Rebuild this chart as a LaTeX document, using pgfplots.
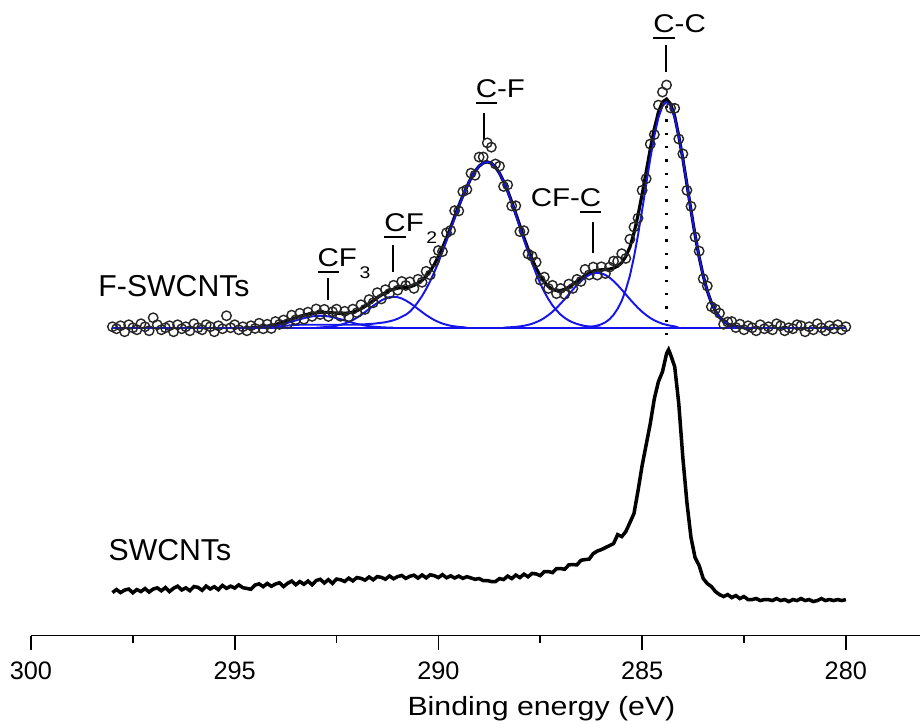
\documentclass[border=0pt]{standalone}
\usepackage{fontspec}
\setmainfont{Liberation Sans}
\newfontfamily\widefont{Liberation Sans}[FakeStretch=1.15]
\usepackage{pgfplots}
\usepackage{pgfplotstable}
\pgfplotsset{compat=1.18}
\definecolor{fitblue}{RGB}{20,20,235}

\newcommand{\plab}{\widefont\fontsize{7.3}{8.5}\selectfont}
\newcommand{\sub}[1]{\kern0.1em\raisebox{-0.45em}{\fontsize{4.8}{5}\selectfont #1}}

% F-SWCNTs: envelope S, components, measured points (above the baseline)
\pgfplotstableread{
E S cc cfc cf cf2 cf3 pt
280.0 0 0 0 0 0 0 1
280.1 0 0 0 0 0 0 -2
280.2 0 0 0 0 0 0 3
280.3 0 0 0 0 0 0 -1
280.4 0 0 0 0 0 0 2
280.5 0 0 0 0 0 0 -3
280.6 0 0 0 0 0 0 0
280.7 0 0 0 0 0 0 4
280.8 0 0 0 0 0 0 -2
280.9 0 0 0 0 0 0 1
281.0 0 0 0 0 0 0 -4
281.1 0 0 0 0 0 0 2
281.2 0 0 0 0 0 0 3
281.3 0 0 0 0 0 0 -1
281.4 0 0 0 0 0 0 0
281.5 0 0 0 0 0 0 -3
281.6 0 0 0 0 0 0 2
281.7 0 0 0 0 0 0 4
281.8 0 0 0 0 0 0 -2
281.9 0 0 0 0 0 0 1
282.0 0 0 0 0 0 0 -1
282.1 0 0 0 0 0 0 3
282.2 0 0 0 0 0 0 -3
282.3 0 0 0 0 0 0 0
282.4 0 0 0 0 0 0 2
282.5 0 0 0 0 0 0 -2
282.6 0.6 0.6 0 0 0 0 3.6
282.7 1.2 1.2 0 0 0 0 0.2
282.8 2.2 2.2 0 0 0 0 6.2
282.9 3.8 3.8 0 0 0 0 5.8
283.0 6.5 6.5 0 0 0 0 3.5
283.1 10.5 10.5 0 0 0 0 14.5
283.2 16.6 16.6 0 0 0 0 18.6
283.3 25.1 25.1 0 0 0 0 21.1
283.4 36.8 36.8 0 0 0 0 41.8
283.5 52.0 52.0 0 0 0 0 49
283.6 70.7 70.7 0 0 0 0 76.7
283.7 92.9 92.9 0 0 0 0 90.9
283.8 117.5 117.5 0 0 0 0 121.5
283.9 143.5 143.5 0 0 0 0 137.5
284.0 169.0 169.0 0 0 0 0 174
284.1 191.9 191.9 0 0 0 0 188.9
284.2 211.6 210.2 1.4 0 0 0 219.6
284.3 223.9 221.9 2.0 0 0 0 219.9
284.4 228.9 226 2.9 0 0 0 242.9
284.5 225.9 221.9 4.0 0 0 0 235.9
284.6 215.8 210.2 5.6 0 0 0 222.8
284.7 199.3 191.9 7.4 0 0 0 193.3
284.8 178.8 169.0 9.8 0 0 0 183.8
284.9 156.2 143.5 12.7 0 0 0 149.2
285.0 133.5 117.5 16.0 0 0 0 137.5
285.1 112.7 92.9 19.8 0 0 0 109.7
285.2 94.8 70.7 24.1 0 0 0 100.8
285.3 80.6 52.0 28.6 0 0 0 88.6
285.4 71.4 38 33.4 0 0 0 69.4
285.5 65.1 27 38.1 0 0 0 74.1
285.6 61.6 19 42.6 0 0 0 66.6
285.7 59.7 13 46.7 0 0 0 66.7
285.8 58.7 8.5 50.2 0 0 0 60.7
285.9 58.3 5.5 52.8 0 0 0 54.3
286.0 58.0 3.5 54.5 0 0 0 61
286.1 57.7 2.2 55 0.5 0 0 52.7
286.2 56.7 1.4 54.5 0.8 0 0 60.7
286.3 54.9 0.8 52.8 1.3 0 0 52.9
286.4 52.4 0.4 50.2 1.8 0 0 58.4
286.5 49.4 0 46.7 2.7 0 0 46.4
286.6 46.4 0 42.6 3.8 0 0 48.4
286.7 43.4 0 38.1 5.3 0 0 39.4
286.8 40.7 0 33.4 7.3 0 0 43.7
286.9 38.5 0 28.6 9.9 0 0 33.5
287.0 37.3 0 24.1 13.2 0 0 39.3
287.1 37.2 0 19.8 17.4 0 0 34.2
287.2 38.4 0 16.0 22.4 0 0 42.4
287.3 41.3 0 12.7 28.6 0 0 39.3
287.4 45.7 0 9.8 35.9 0 0 50.7
287.5 51.7 0 7.4 44.3 0 0 47.7
287.6 59.6 0 5.6 54.0 0 0 65.6
287.7 68.6 0 4.0 64.6 0 0 71.6
287.8 78.9 0 2.9 76.0 0 0 73.9
287.9 90.1 0 2.0 88.1 0 0 97.1
288.0 102.2 0 1.4 100.8 0 0 96.2
288.1 114.1 0 0.9 113.2 0 0 122.1
288.2 125.9 0 0.6 125.3 0 0 121.9
288.3 137.0 0 0.4 136.6 0 0 143
288.4 146.4 0 0 146.4 0 0 141.4
288.5 154.7 0 0 154.7 0 0 161.7
288.6 160.9 0 0 160.9 0 0 163.9
288.7 164.7 0 0 164.7 0 0 180.7
288.8 166 0 0 166 0 0 185
288.9 164.9 0 0 164.9 0 0 170.9
289.0 161.8 0 0 161.8 0 0 170.8
289.1 156.6 0 0 156.6 0 0 152.6
289.2 149.7 0 0 149.7 0 0 154.7
289.3 141.3 0 0 141.3 0 0 138.3
289.4 132.2 0 0 131.6 0.6 0 136.2
289.5 121.9 0 0 121.0 0.9 0 116.9
289.6 111.2 0 0 109.8 1.4 0 117.2
289.7 100.4 0 0 98.4 2.0 0 97.4
289.8 90.0 0 0 87.0 3.0 0 95
289.9 80.2 0 0 76.0 4.2 0 76.2
290.0 71.3 0 0 65.5 5.8 0 77.3
290.1 63.4 0 0 55.7 7.7 0 66.4
290.2 56.9 0 0 46.8 10.1 0 52.9
290.3 51.5 0 0 38.8 12.7 0 56.5
290.4 47.5 0 0 31.8 15.7 0 45.5
290.5 44.5 0 0 25.7 18.8 0 48.5
290.6 42.4 0 0 20.5 21.9 0 39.4
290.7 40.9 0 0 16.1 24.8 0 45.9
290.8 40.3 0 0 13.0 27.3 0 42.3
290.9 40.3 0 0 11 29.3 0 46.3
291.0 39.6 0 0 9 30.6 0 37.6
291.1 38.5 0 0 7.5 31 0 42.5
291.2 37.3 0 0 6.5 30.6 0.2 34.3
291.3 35.1 0 0 5.5 29.3 0.3 38.1
291.4 32.8 0 0 5.0 27.3 0.5 28.8
291.5 30.1 0 0 4.5 24.8 0.8 35.1
291.6 27.0 0 0 4.0 21.9 1.1 25
291.7 24.2 0 0 3.8 18.8 1.6 28.2
291.8 21.4 0 0 3.5 15.7 2.2 18.4
291.9 19.0 0 0 3.3 12.7 3.0 23
292.0 17.1 0 0 3.1 10.1 3.9 15.1
292.1 15.6 0 0 3.0 7.7 4.9 18.6
292.2 14.9 0 0 3.0 5.8 6.1 10.9
292.3 14.5 0 0 3.0 4.2 7.3 16.5
292.4 14.5 0 0 3.0 3.0 8.5 11.5
292.5 14.6 0 0 3.0 2.0 9.6 18.6
292.6 15.0 0 0 3.0 1.4 10.6 16
292.7 15.3 0 0 3.0 0.9 11.4 11.3
292.8 15.4 0 0 3.0 0.6 11.8 18.4
292.9 15.3 0 0 3.0 0.3 12 13.3
293.0 14.8 0 0 3.0 0 11.8 18.8
293.1 14.4 0 0 3.0 0 11.4 11.4
293.2 13.6 0 0 3.0 0 10.6 15.6
293.3 12.6 0 0 3.0 0 9.6 8.6
293.4 11.5 0 0 3.0 0 8.5 14.5
293.5 10.1 0 0 2.8 0 7.3 8.1
293.6 8.6 0 0 2.5 0 6.1 12.6
293.7 7.1 0 0 2.2 0 4.9 4.1
293.8 5.7 0 0 1.8 0 3.9 7.7
293.9 4.4 0 0 1.4 0 3.0 3.4
294.0 3.2 0 0 1.0 0 2.2 6.2
294.1 2.3 0 0 0.7 0 1.6 -0.7
294.2 1.5 0 0 0.4 0 1.1 3.5
294.3 1.0 0 0 0.2 0 0.8 -1
294.4 0.5 0 0 0 0 0.5 4.5
294.5 0.3 0 0 0 0 0.3 -0.7
294.6 0 0 0 0 0 0 2
294.7 0 0 0 0 0 0 -3
294.8 0 0 0 0 0 0 1
294.9 0 0 0 0 0 0 -2
295.0 0 0 0 0 0 0 3
295.1 0 0 0 0 0 0 0
295.2 0 0 0 0 0 0 12
295.3 0 0 0 0 0 0 -1
295.4 0 0 0 0 0 0 2
295.5 0 0 0 0 0 0 -4
295.6 0 0 0 0 0 0 1
295.7 0 0 0 0 0 0 3
295.8 0 0 0 0 0 0 -2
295.9 0 0 0 0 0 0 0
296.0 0 0 0 0 0 0 4
296.1 0 0 0 0 0 0 -3
296.2 0 0 0 0 0 0 1
296.3 0 0 0 0 0 0 -1
296.4 0 0 0 0 0 0 3
296.5 0 0 0 0 0 0 -4
296.6 0 0 0 0 0 0 2
296.7 0 0 0 0 0 0 0
296.8 0 0 0 0 0 0 -2
296.9 0 0 0 0 0 0 3
297.0 0 0 0 0 0 0 10
297.1 0 0 0 0 0 0 -3
297.2 0 0 0 0 0 0 1
297.3 0 0 0 0 0 0 4
297.4 0 0 0 0 0 0 -2
297.5 0 0 0 0 0 0 0
297.6 0 0 0 0 0 0 3
297.7 0 0 0 0 0 0 -4
297.8 0 0 0 0 0 0 2
297.9 0 0 0 0 0 0 -1
298.0 0 0 0 0 0 0 1
}\fswcnt

% pristine SWCNTs
\pgfplotstableread{
E I
298.0 43
297.9 46
297.8 43
297.7 45.5
297.6 46.5
297.5 42.8
297.4 46
297.3 44
297.2 47
297.1 43.5
297.0 46.5
296.9 47.7
296.8 44.8
296.7 48
296.6 44
296.5 47.3
296.4 49.4
296.3 45.6
296.2 47.7
296.1 44.9
296.0 49
295.9 48.2
295.8 45.3
295.7 49.5
295.6 46.6
295.5 48.8
295.4 45.9
295.3 50.1
295.2 47.2
295.1 49.4
295.0 47.5
294.9 50.7
294.8 47.9
294.7 47.1
294.6 46.3
294.5 50.5
294.4 51.7
294.3 48.9
294.2 52.1
294.1 49.3
294.0 51.5
293.9 52.8
293.8 49
293.7 52.3
293.6 54.5
293.5 50.8
293.4 54
293.3 51.3
293.2 54.5
293.1 50.8
293.0 55
292.9 56.3
292.8 52.6
292.7 55.9
292.6 52.2
292.5 56.5
292.4 55.8
292.3 54.1
292.2 57.4
292.1 54.7
292.0 58
291.9 57.2
291.8 55.4
291.7 58.6
291.6 55.8
291.5 59
291.4 58.2
291.3 56.4
291.2 59.6
291.1 56.8
291.0 59
290.9 60.1
290.8 57.2
290.7 59.3
290.6 60.4
290.5 57.5
290.4 60.6
290.3 57.7
290.2 60.8
290.1 59.9
290.0 58
289.9 60.9
289.8 57.8
289.7 59.7
289.6 57.6
289.5 59.5
289.4 57.2
289.3 58.9
289.2 57.6
289.1 56.3
289.0 57
288.9 55
288.8 55
288.7 54
288.6 54
288.5 57
288.4 56
288.3 59.5
288.2 57
288.1 60.5
288.0 58
287.9 61.4
287.8 58.8
287.7 62.2
287.6 61.6
287.5 60
287.4 64
287.3 64
287.2 63
287.1 67
287.0 67
286.9 66.3
286.8 70.7
286.7 71
286.6 70.7
286.5 75.3
286.4 76
286.3 76.5
286.2 82
286.1 84.5
286.0 86
285.9 88
285.8 90
285.7 92
285.6 101
285.5 99
285.4 104
285.3 113
285.2 122
285.1 145
285.0 170
284.9 191
284.8 212
284.7 237
284.6 254
284.5 264
284.4 282
284.35 286
284.3 281
284.2 269
284.1 232
284.0 178
283.9 133
283.8 98
283.7 78
283.6 70
283.5 57
283.4 52
283.3 49
283.2 44
283.1 41
283.0 39
282.9 41
282.8 38
282.7 40
282.6 37
282.5 39
282.4 36
282.3 36
282.2 37
282.1 35
282.0 36
281.9 36
281.8 35
281.7 37
281.6 35
281.5 36
281.4 34
281.3 36
281.2 35
281.1 37
281.0 35
280.9 36
280.8 34
280.7 35
280.6 37
280.5 35
280.4 36
280.3 35
280.2 36
280.1 35
280.0 36
}\swcnt

\begin{document}
\begin{tikzpicture}
\begin{axis}[
  x=0.4075cm, y=0.01cm,
  x dir=reverse,
  xmin=278.18, xmax=300, ymin=0, ymax=636,
  enlargelimits=false,
  clip=false,
  axis x line*=bottom,
  axis y line=none,
  ytick=\empty,
  xtick={280,285,290,295,300},
  minor x tick num=1,
  tick align=outside,
  major tick length=0.14cm,
  minor tick length=0.07cm,
  every tick/.style={black, line width=0.5pt},
  axis line style={black, line width=0.55pt},
  /pgf/number format/assume math mode=true,
  xticklabel style={font=\fontsize{7.2}{8}\selectfont, anchor=base, yshift=-0.30cm},
]
\coordinate (bl) at (axis cs:300.76,-88);
\coordinate (tr) at (axis cs:278.18,636);

% F-SWCNTs: points, envelope, components, baseline
\addplot[only marks, mark=o, mark size=1.35pt, black!85, mark options={line width=0.4pt}]
  table[x=E, y expr=\thisrow{pt}+308] {\fswcnt};
\addplot[black, line width=0.9pt, restrict x to domain=282.5:294.6]
  table[x=E, y expr=\thisrow{S}+308] {\fswcnt};
\addplot[fitblue, line width=0.55pt, restrict x to domain=282.5:286.5]
  table[x=E, y expr=\thisrow{cc}+308] {\fswcnt};
\addplot[fitblue, line width=0.55pt, restrict x to domain=284.1:288.4]
  table[x=E, y expr=\thisrow{cfc}+308] {\fswcnt};
\addplot[fitblue, line width=0.55pt, restrict x to domain=286.0:294.4]
  table[x=E, y expr=\thisrow{cf}+308] {\fswcnt};
\addplot[fitblue, line width=0.55pt, restrict x to domain=289.3:293.0]
  table[x=E, y expr=\thisrow{cf2}+308] {\fswcnt};
\addplot[fitblue, line width=0.55pt, restrict x to domain=291.1:294.6]
  table[x=E, y expr=\thisrow{cf3}+308] {\fswcnt};
\addplot[fitblue, line width=0.6pt] coordinates {(298,308) (280,308)};

% SWCNTs
\addplot[black, line width=1pt] table[x=E, y=I] {\swcnt};

% C-C position
\addplot[black, line width=0.7pt, dash pattern=on 0.7pt off 3.1pt]
  coordinates {(284.4,530) (284.4,295)};

% peak markers
\addplot[black, line width=0.45pt] coordinates {(284.42,564) (284.42,591)};
\addplot[black, line width=0.45pt] coordinates {(288.88,496) (288.88,523)};
\addplot[black, line width=0.45pt] coordinates {(286.21,383) (286.21,414)};
\addplot[black, line width=0.45pt] coordinates {(291.12,364) (291.12,391)};
\addplot[black, line width=0.45pt] coordinates {(292.71,336) (292.71,358)};

\node[anchor=base west, inner sep=0, font=\plab] at (axis cs:284.74,603) {\underline{C}-C};
\node[anchor=base west, inner sep=0, font=\plab] at (axis cs:289.10,538) {\underline{C}-F};
\node[anchor=base west, inner sep=0, font=\plab] at (axis cs:287.75,429) {CF-\underline{C}};
\node[anchor=base west, inner sep=0, font=\plab] at (axis cs:291.34,404) {\underline{C}F\sub{2}};
\node[anchor=base west, inner sep=0, font=\plab] at (axis cs:292.98,369) {\underline{C}F\sub{3}};

\node[anchor=base west, inner sep=0, font=\fontsize{8.6}{10}\selectfont] at (axis cs:298.36,339) {F-SWCNTs};
\node[anchor=base west, inner sep=0, font=\fontsize{8.6}{10}\selectfont] at (axis cs:298.11,75) {SWCNTs};

\node[anchor=base, inner sep=0, font=\widefont\fontsize{7.5}{9}\selectfont] at (axis cs:287.47,-80) {Binding energy (eV)};
\end{axis}
\pgfresetboundingbox
\path[use as bounding box] (bl) rectangle (tr);
\end{tikzpicture}
\end{document}
